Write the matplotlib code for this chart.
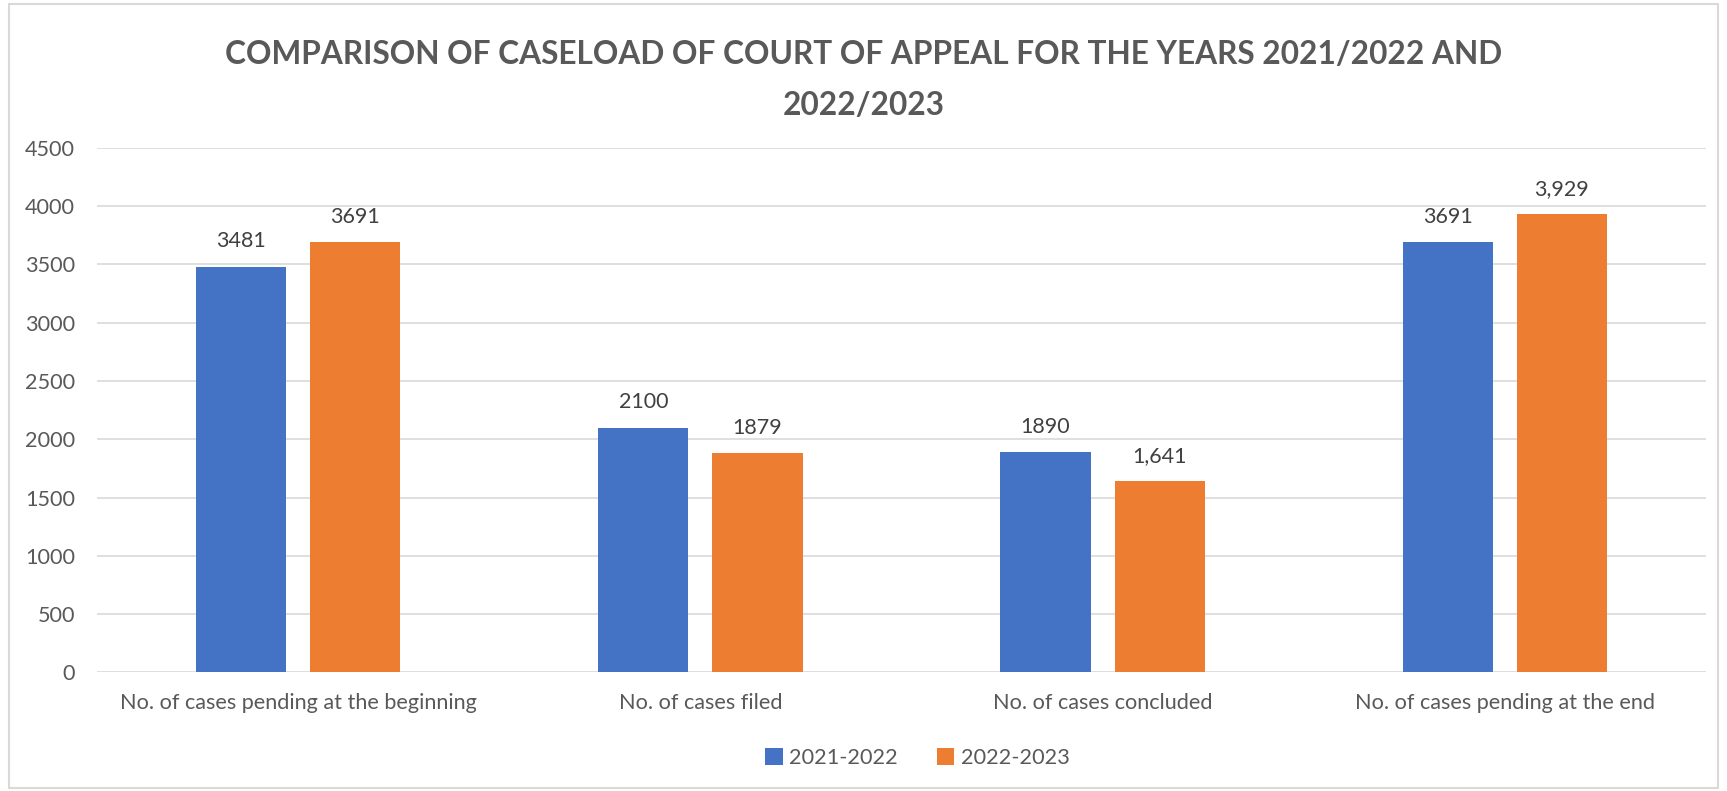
import numpy as np
import matplotlib.pyplot as plt
from matplotlib.patches import Rectangle

# Caseload data
categories = ['No. of cases pending at the beginning', 'No. of cases filed',
              'No. of cases concluded', 'No. of cases pending at the end']
cases_2021_22 = [3481, 2100, 1890, 3691]
cases_2022_23 = [3691, 1879, 1641, 3929]
labels_2021_22 = ['3481', '2100', '1890', '3691']
labels_2022_23 = ['3691', '1879', '1,641', '3,929']
series_names = ['2021-2022', '2022-2023']
y_ticks = [0, 500, 1000, 1500, 2000, 2500, 3000, 3500, 4000, 4500]

blue = '#4472C4'
orange = '#ED7D31'
grey_text = '#595959'

plt.rcParams['font.family'] = ['Lato', 'DejaVu Sans']

fig = plt.figure(figsize=(17.27, 7.91), dpi=100)
ax = fig.add_axes([0.0562, 0.150, 0.9316, 0.663])

x = np.arange(len(categories))
width = 0.224
offset = 0.142

bars1 = ax.bar(x - offset, cases_2021_22, width, color=blue, label=series_names[0], zorder=3)
bars2 = ax.bar(x + offset, cases_2022_23, width, color=orange, label=series_names[1], zorder=3)

# Data labels above the bars
for bars, labels in [(bars1, labels_2021_22), (bars2, labels_2022_23)]:
    for b, lab in zip(bars, labels):
        ax.annotate(lab, (b.get_x() + b.get_width() / 2, b.get_height()),
                    xytext=(0, 11), textcoords='offset points',
                    ha='center', va='bottom', fontsize=15.5, color='#404040')

ax.set_xlim(-0.5, 3.5)
ax.set_ylim(0, 4500)
ax.set_yticks(y_ticks)
ax.set_xticks(x)
ax.set_xticklabels(categories)
ax.tick_params(axis='both', length=0, labelsize=15.6, labelcolor=grey_text)
ax.tick_params(axis='x', pad=15)
ax.tick_params(axis='y', pad=16)
ax.grid(axis='y', color='#D9D9D9', linewidth=1.2, zorder=0)
for s in ax.spines.values():
    s.set_visible(False)

fig.suptitle('COMPARISON OF CASELOAD OF COURT OF APPEAL FOR THE YEARS 2021/2022 AND\n2022/2023',
             y=0.95, fontsize=22.8, fontweight='bold', color=grey_text, linespacing=1.95)

ax.legend(loc='center', bbox_to_anchor=(0.51, -0.163), ncol=2, frameon=False,
          fontsize=15.6, labelcolor=grey_text, handlelength=0.8, handleheight=0.8,
          handletextpad=0.3, columnspacing=1.8)

# light border round the chart
fig.patches.append(Rectangle((0.005, 0.004), 0.99, 0.991, transform=fig.transFigure,
                             fill=False, edgecolor='#D9D9D9', linewidth=1.5))

fig.savefig('out.png', dpi=100)
